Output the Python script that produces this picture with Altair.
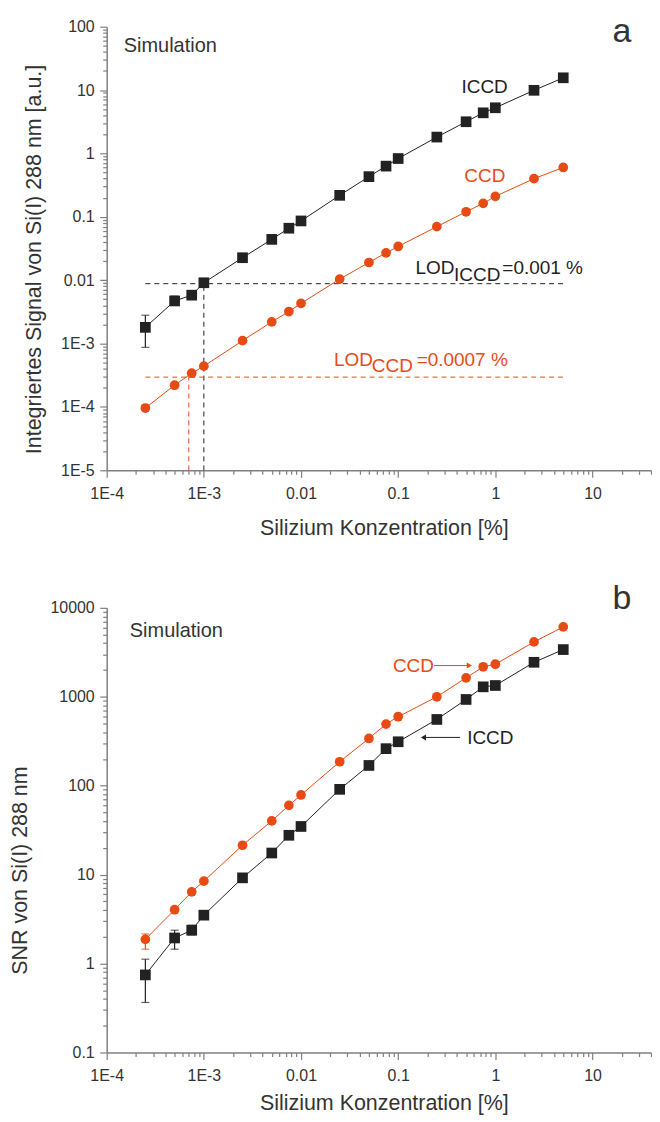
import altair as alt
import pandas as pd

# ---------------- data ----------------
conc = [2.5e-4, 5e-4, 7.5e-4, 1e-3, 2.5e-3, 5e-3, 7.5e-3, 0.01, 0.025, 0.05,
        0.075, 0.1, 0.25, 0.5, 0.75, 1.0, 2.5, 5.0]

# panel a: integrated signal
signal_iccd = [0.0018, 0.0047, 0.0058, 0.0091, 0.0226, 0.044, 0.066, 0.086, 0.218,
               0.43, 0.63, 0.83, 1.81, 3.16, 4.37, 5.25, 9.9, 15.6]
signal_ccd = [9.6e-5, 2.2e-4, 3.4e-4, 4.4e-4, 0.00111, 0.0022, 0.0032, 0.0043, 0.0104,
              0.019, 0.027, 0.034, 0.070, 0.12, 0.163, 0.21, 0.40, 0.60]

# panel b: SNR
snr_iccd = [0.745, 1.94, 2.37, 3.5, 9.2, 17.5, 27.7, 34.8, 91, 169, 261, 312,
            556, 933, 1294, 1339, 2443, 3395]
snr_ccd = [1.87, 4.03, 6.4, 8.45, 21.4, 40.2, 60, 78.7, 186, 340, 493, 597,
           1000, 1634, 2173, 2323, 4140, 6110]

# error bars
err_a_iccd_x = [2.5e-4, 5e-4]
err_a_iccd_lo = [0.00087, 0.0041]
err_a_iccd_hi = [0.0028, 0.0056]
err_a_ccd_x = [2.5e-4]
err_a_ccd_lo = [8.8e-5]
err_a_ccd_hi = [1.06e-4]
err_b_iccd_x = [2.5e-4, 5e-4, 7.5e-4]
err_b_iccd_lo = [0.365, 1.45, 2.1]
err_b_iccd_hi = [1.12, 2.37, 2.7]
err_b_ccd_x = [2.5e-4]
err_b_ccd_lo = [1.45]
err_b_ccd_hi = [2.15]

# limits of detection
lod_iccd_conc = 0.001
lod_iccd_signal = 0.0088
lod_ccd_conc = 0.0007
lod_ccd_signal = 2.95e-4

# axis ranges and tick values
x_domain = [1e-4, 40]
ya_domain = [1e-5, 100]
yb_domain = [0.1, 10000]
x_ticks = [m * 10.0 ** e for e in range(-4, 2) for m in range(1, 10)] + [20.0, 30.0, 40.0]
ya_ticks = [m * 10.0 ** e for e in range(-5, 2) for m in range(1, 10)] + [100.0]
yb_ticks = [m * 10.0 ** e for e in range(-1, 4) for m in range(1, 10)] + [10000.0]

# ---------------- style ----------------
FONT = "Liberation Sans"
BLACK = "#222222"
ORANGE = "#e84a14"
GRAY = "#808080"
TXT = "#333333"

MAJOR = "abs(log(datum.value) / LN10 - round(log(datum.value) / LN10)) < 0.001"
LABEL = ("(" + MAJOR + ") ? (datum.value < 0.005 ? '1E' + round(log(datum.value) / LN10)"
         " : format(datum.value, '~g')) : ''")
TICKSIZE = {"condition": {"test": MAJOR, "value": 7}, "value": 4}

common_axis = dict(
    labelExpr=LABEL, tickSize=TICKSIZE, tickColor=GRAY, tickWidth=1.2,
    domainColor=GRAY, domainWidth=1.5, grid=False,
    labelFont=FONT, labelFontSize=16, labelColor=TXT,
    labelOverlap=False, labelFlush=False,
    titleFont=FONT, titleFontSize=21.5, titleFontWeight="normal", titleColor=TXT,
)

PLOT_W = 546
ONE = pd.DataFrame({"k": [0]})


def x_axis(title_y):
    return alt.Axis(values=x_ticks, title="Silizium Konzentration [%]", labelPadding=8.5,
                    titleX=278, titleY=title_y, titleAlign="center",
                    titleBaseline="alphabetic", **common_axis)


def y_axis(values, title, tx, ty):
    return alt.Axis(values=values, title=title, labelPadding=5.5, titleAngle=270,
                    titleX=tx, titleY=ty, titleAlign="center", titleBaseline="middle",
                    **common_axis)


def frame_rule(ypix):
    # invisible layout guide: fixes the outer extent of the drawing
    return alt.Chart(ONE).mark_rule(opacity=0).encode(
        x=alt.value(-110), x2=alt.value(560), y=alt.value(ypix))


def build_panel(ydom, yaxis, xtitle_y, height, iccd, ccd, errs, extra_layers):
    X = alt.X("x:Q", scale=alt.Scale(type="log", domain=x_domain, nice=False),
              axis=x_axis(xtitle_y))
    Y = alt.Y("y:Q", scale=alt.Scale(type="log", domain=ydom, nice=False), axis=yaxis)
    df_i = pd.DataFrame({"x": conc, "y": iccd})
    df_c = pd.DataFrame({"x": conc, "y": ccd})
    layers = list(extra_layers["under"](X, Y))
    layers.append(alt.Chart(df_i).mark_line(color=BLACK, strokeWidth=1).encode(x=X, y=Y))
    layers.append(alt.Chart(df_c).mark_line(color=ORANGE, strokeWidth=1).encode(x=X, y=Y))
    for ex, lo, hi, col in errs:
        dfe = pd.DataFrame({"x": ex, "y": lo, "y2": hi})
        layers.append(alt.Chart(dfe).mark_rule(color=col, strokeWidth=1.2)
                      .encode(x=X, y=Y, y2=alt.Y2("y2:Q")))
        layers.append(alt.Chart(pd.DataFrame({"x": ex, "y": lo})).mark_tick(
            orient="horizontal", size=8, thickness=1.2, color=col).encode(x=X, y=Y))
        layers.append(alt.Chart(pd.DataFrame({"x": ex, "y": hi})).mark_tick(
            orient="horizontal", size=8, thickness=1.2, color=col).encode(x=X, y=Y))
    layers.append(alt.Chart(df_i).mark_point(shape="square", filled=True, size=115,
                                             color=BLACK, opacity=1).encode(x=X, y=Y))
    layers.append(alt.Chart(df_c).mark_point(shape="circle", filled=True, size=95,
                                             color=ORANGE, opacity=1).encode(x=X, y=Y))
    layers += list(extra_layers["over"](X, Y))
    return alt.layer(*layers).properties(width=PLOT_W, height=height)


def text_layer(X, Y, xs, ys, texts, color, size, align="left", baseline="middle", dy=0):
    df = pd.DataFrame({"x": xs, "y": ys, "t": texts})
    return alt.Chart(df).mark_text(align=align, baseline=baseline, font=FONT, fontSize=size,
                                   color=color, dy=dy).encode(x=X, y=Y, text="t:N")


# ---------------- panel a ----------------
def a_under(X, Y):
    out = [frame_rule(-50)]
    for c, s, col in [(lod_iccd_conc, lod_iccd_signal, BLACK), (lod_ccd_conc, lod_ccd_signal, ORANGE)]:
        df = pd.DataFrame({"x": [conc[0], c], "x2": [conc[-1], c],
                           "y": [s, ya_domain[0]], "y2": [s, s]})
        out.append(alt.Chart(df).mark_rule(color=col, strokeWidth=1, strokeDash=[5, 4])
                   .encode(x=X, x2=alt.X2("x2:Q"), y=Y, y2=alt.Y2("y2:Q")))
    return out


def a_over(X, Y):
    return [
        text_layer(X, Y, [1.5e-4], [48.9], ["Simulation"], TXT, 20),
        text_layer(X, Y, [0.448], [11.0], ["ICCD"], BLACK, 19),
        text_layer(X, Y, [0.48], [0.44], ["CCD"], ORANGE, 19),
        text_layer(X, Y, [0.151], [0.0153], ["LOD"], BLACK, 19),
        text_layer(X, Y, [0.376], [0.0153], ["ICCD"], BLACK, 19, dy=6.5),
        text_layer(X, Y, [1.18], [0.0153], ["=0.001 %"], BLACK, 19),
        text_layer(X, Y, [0.0218], [5.55e-4], ["LOD"], ORANGE, 19),
        text_layer(X, Y, [0.0535], [5.55e-4], ["CCD"], ORANGE, 19, dy=6.5),
        text_layer(X, Y, [0.155], [5.55e-4], ["=0.0007 %"], ORANGE, 19),
        text_layer(X, Y, [20.1], [57.1], ["a"], TXT, 34, align="center", baseline="alphabetic"),
    ]


panel_a = build_panel(
    ya_domain,
    y_axis(ya_ticks, "Integriertes Signal von Si(I) 288 nm [a.u.]", -72, 233),
    64, 445, signal_iccd, signal_ccd,
    [(err_a_iccd_x, err_a_iccd_lo, err_a_iccd_hi, BLACK),
     (err_a_ccd_x, err_a_ccd_lo, err_a_ccd_hi, ORANGE)],
    {"under": a_under, "over": a_over},
)


# ---------------- panel b ----------------
def b_under(X, Y):
    return [frame_rule(546)]


def b_over(X, Y):
    arrows = pd.DataFrame({"x": [0.233], "x2": [0.55], "y": [2245]})
    arrows_i = pd.DataFrame({"x": [0.434], "x2": [0.177], "y": [349]})
    return [
        alt.Chart(arrows).mark_rule(color=ORANGE, strokeWidth=1).encode(x=X, x2=alt.X2("x2:Q"), y=Y),
        alt.Chart(pd.DataFrame({"x": [0.54], "y": [2245]})).mark_point(
            shape="triangle-right", filled=True, size=35, color=ORANGE, opacity=1).encode(x=X, y=Y),
        alt.Chart(arrows_i).mark_rule(color=BLACK, strokeWidth=1).encode(x=X, x2=alt.X2("x2:Q"), y=Y),
        alt.Chart(pd.DataFrame({"x": [0.182], "y": [349]})).mark_point(
            shape="triangle-left", filled=True, size=35, color=BLACK, opacity=1).encode(x=X, y=Y),
        text_layer(X, Y, [1.73e-4], [5520], ["Simulation"], TXT, 20),
        text_layer(X, Y, [0.0883], [2245], ["CCD"], ORANGE, 19),
        text_layer(X, Y, [0.513], [347], ["ICCD"], BLACK, 19),
        text_layer(X, Y, [20.1], [9745], ["b"], TXT, 34, align="center", baseline="alphabetic"),
    ]


panel_b = build_panel(
    yb_domain,
    y_axis(yb_ticks, "SNR von Si(I) 288 nm", -86, 263),
    57, 446, snr_iccd, snr_ccd,
    [(err_b_iccd_x, err_b_iccd_lo, err_b_iccd_hi, BLACK),
     (err_b_ccd_x, err_b_ccd_lo, err_b_ccd_hi, ORANGE)],
    {"under": b_under, "over": b_over},
)

# svg: 644 x 1106 (fits the 660 x 1122 page inside its 8px margin)
chart = (
    alt.vconcat(panel_a, panel_b, spacing=138, bounds="flush")
    .properties(padding={"top": -34, "left": -12, "right": -14, "bottom": -39})
    .configure_view(stroke="transparent")
)

chart.save("out.html", embed_options={"renderer": "svg", "actions": False})
